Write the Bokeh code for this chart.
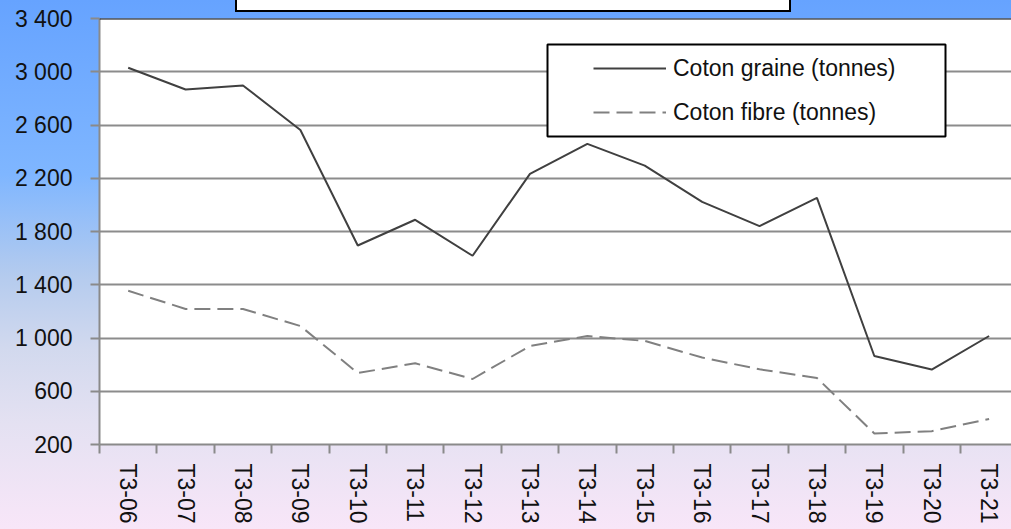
from bokeh.plotting import figure
from bokeh.models import (Range1d, FixedTicker, Legend, LegendItem, Span,
                          BoxAnnotation, ColumnDataSource)
from bokeh.embed import file_html
from bokeh.resources import INLINE

# ---- data ----
categories = ["T3-06", "T3-07", "T3-08", "T3-09", "T3-10", "T3-11", "T3-12", "T3-13",
              "T3-14", "T3-15", "T3-16", "T3-17", "T3-18", "T3-19", "T3-20", "T3-21"]
coton_graine = [3030, 2867, 2897, 2562, 1695, 1888, 1618, 2233,
                2458, 2295, 2023, 1840, 2053, 865, 763, 1015]
coton_fibre = [1355, 1218, 1218, 1090, 737, 810, 692, 940,
               1015, 978, 853, 765, 700, 283, 300, 392]
y_ticks = [200, 600, 1000, 1400, 1800, 2200, 2600, 3000, 3400]
y_tick_labels = ["200", "600", "1 000", "1 400", "1 800", "2 200", "2 600", "3 000", "3 400"]
series_names = ["Coton graine (tonnes)", "Coton fibre (tonnes)"]

FONT = "Liberation Sans"
idx = list(range(len(categories)))

p = figure(width=1011, height=529, output_backend="svg", toolbar_location=None,
           x_range=Range1d(-0.5, 15.39), y_range=Range1d(200, 3400),
           min_border_left=99, min_border_right=0, min_border_top=18, min_border_bottom=85)
p.styles = {"background": "linear-gradient(to bottom, #66a3ff 0%, #7fb6ff 33%, #b4cbee 52%, #d2d9ee 66%, #e4e1f2 80%, #f8e6f8 100%)"}
# empty title frame at the top, mostly cut off by the page edge
p.stylesheets = [":host::after { content: ''; position: absolute; left: 235px; top: -8px; "
                 "width: 552px; height: 16px; background: white; border: 2px solid black; "
                 "box-sizing: content-box; pointer-events: none; }"]
p.border_fill_color = None
p.background_fill_color = "white"
p.outline_line_color = None

# axes
xa = p.xaxis[0]
xa.ticker = FixedTicker(ticks=idx, minor_ticks=[i - 0.5 for i in range(len(categories) + 1)])
xa.major_label_overrides = {i: c for i, c in enumerate(categories)}
xa.major_label_orientation = "vertical"
xa.major_tick_line_color = None
xa.major_tick_out = 9
xa.major_tick_in = 0
xa.minor_tick_out = 9
xa.minor_tick_in = 0
xa.minor_tick_line_color = "#8a8a8a"
xa.minor_tick_line_width = 2
xa.major_label_standoff = 10
xa.axis_line_color = "#8a8a8a"
xa.axis_line_width = 2
xa.major_label_text_font = FONT
xa.major_label_text_font_size = "23px"
xa.major_label_text_color = "#111111"

ya = p.yaxis[0]
ya.ticker = FixedTicker(ticks=y_ticks)
ya.major_label_overrides = {t: l for t, l in zip(y_ticks, y_tick_labels)}
ya.major_tick_out = 9
ya.major_tick_in = 0
ya.major_tick_line_color = "#8a8a8a"
ya.major_tick_line_width = 2
ya.minor_tick_line_color = None
ya.major_label_standoff = 18
ya.axis_line_color = "#8a8a8a"
ya.axis_line_width = 2
ya.major_label_text_font = FONT
ya.major_label_text_font_size = "23px"
ya.major_label_text_color = "#111111"

p.xgrid.grid_line_color = None
p.ygrid.ticker = FixedTicker(ticks=y_ticks)
p.ygrid.grid_line_color = "#8c8c8c"
p.ygrid.grid_line_width = 2

# top frame border
p.add_layout(Span(location=3400, dimension="width", line_color="black", line_width=2))

src = ColumnDataSource(dict(x=idx, g=coton_graine, f=coton_fibre))
r1 = p.line("x", "g", source=src, line_color="#404040", line_width=2)
r2 = p.line("x", "f", source=src, line_color="#808080", line_width=2, line_dash="16 7")

# legend box
p.add_layout(BoxAnnotation(left=448, right=846, top=400, bottom=308,
                           left_units="screen", right_units="screen",
                           top_units="screen", bottom_units="screen",
                           fill_color="white", fill_alpha=1, line_color="black",
                           line_alpha=1, line_width=2))

legend = Legend(items=[LegendItem(label=series_names[0], renderers=[r1]),
                       LegendItem(label=series_names[1], renderers=[r2])],
                location=(494, 317), padding=0, spacing=14,
                glyph_width=73, glyph_height=30, label_height=30, label_standoff=7,
                border_line_color=None, background_fill_alpha=0,
                label_text_font=FONT, label_text_font_size="23px", label_text_color="#111111")
p.add_layout(legend)

open("out.html", "w").write(file_html(p, INLINE))
